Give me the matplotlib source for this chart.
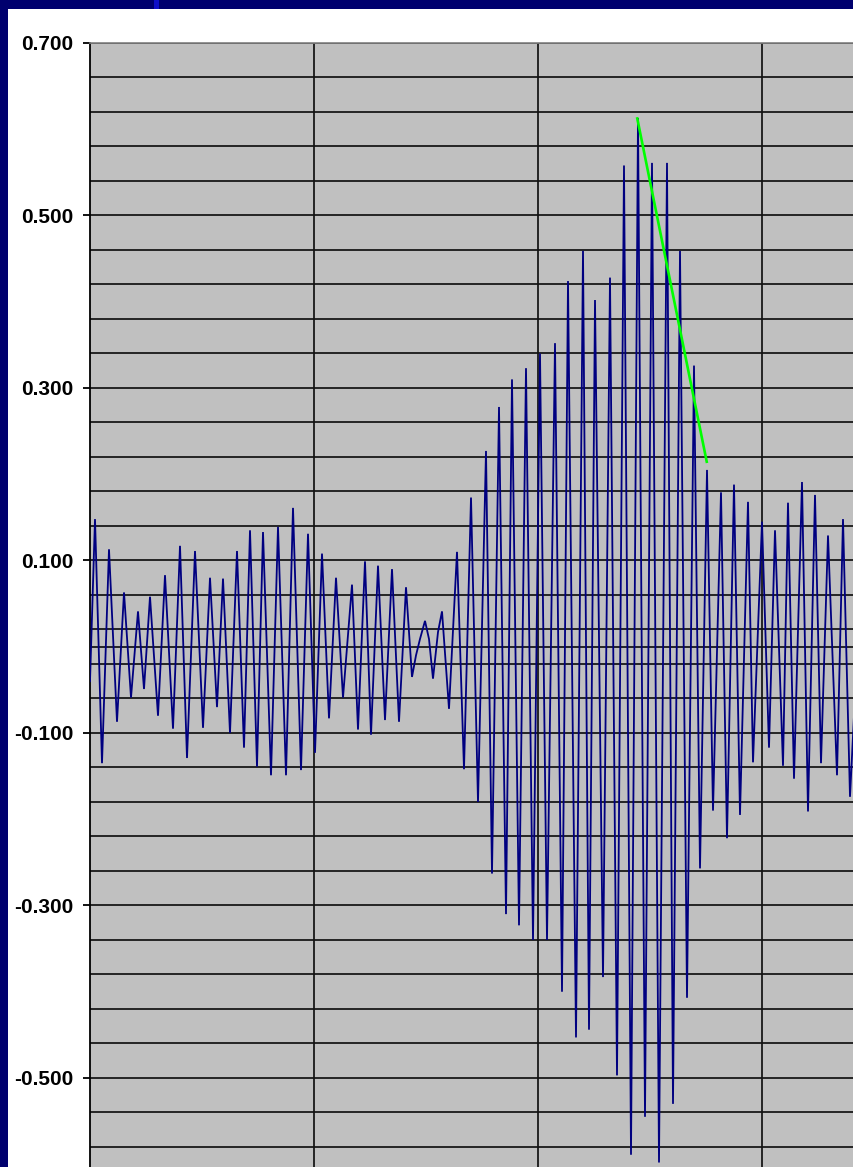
import matplotlib

matplotlib.use("Agg")
import matplotlib.pyplot as plt
import numpy as np
from matplotlib.patches import Rectangle
from matplotlib.ticker import FixedLocator, FuncFormatter

# Extremes of the recorded trace: sample position and amplitude
sample_pos = [
    0, 5, 12, 19, 27, 34, 41, 48, 54, 60, 68, 75, 83, 90, 97, 105,
    113, 120, 127, 133, 140, 147, 154, 160, 167, 173, 181, 188, 196, 203, 211, 218,
    225, 232, 239, 246, 253, 262, 268, 275, 281, 288, 295, 302, 309, 316,
    322, 326, 330, 335, 339, 343, 348, 352, 359,
    367, 374, 381, 388, 396, 402, 409, 416, 422, 429, 436, 443, 450, 457,
    465, 472, 478, 486, 493, 499, 505, 513, 520, 527, 534, 541, 548, 555,
    562, 569, 577, 583, 590, 597, 604, 610, 617, 623, 631, 637, 644, 650,
    658, 663, 672, 679, 685, 693, 698, 704, 712, 718, 725, 731, 738, 747,
    753, 760, 764,
]
amplitude = [
    -0.040, 0.148, -0.135, 0.113, -0.087, 0.063, -0.059, 0.041, -0.049, 0.058, -0.080, 0.083, -0.095, 0.117, -0.129, 0.111,
    -0.094, 0.080, -0.070, 0.079, -0.100, 0.111, -0.117, 0.135, -0.139, 0.133, -0.149, 0.139, -0.149, 0.161, -0.143, 0.131,
    -0.123, 0.108, -0.083, 0.080, -0.059, 0.072, -0.096, 0.099, -0.102, 0.094, -0.085, 0.090, -0.087, 0.069,
    -0.035, -0.010, 0.009, 0.030, 0.009, -0.037, 0.017, 0.041, -0.072,
    0.110, -0.142, 0.173, -0.180, 0.227, -0.263, 0.278, -0.310, 0.310, -0.323, 0.323, -0.340, 0.340, -0.340,
    0.352, -0.400, 0.424, -0.453, 0.459, -0.444, 0.402, -0.383, 0.428, -0.497, 0.558, -0.589, 0.613, -0.545,
    0.561, -0.598, 0.561, -0.530, 0.459, -0.407, 0.326, -0.257, 0.205, -0.190, 0.179, -0.222, 0.188, -0.195,
    0.168, -0.134, 0.145, -0.117, 0.135, -0.138, 0.167, -0.153, 0.191, -0.191, 0.176, -0.135, 0.129, -0.149,
    0.148, -0.174, -0.080,
]

# Decay line drawn from the largest peak down the falling envelope
decay_pos = [547, 617]
decay_amp = [0.614, 0.213]

y_labels = [0.7, 0.5, 0.3, 0.1, -0.1, -0.3, -0.5]
grid_step = 0.04
sample_grid = [224, 448, 672]

W, H = 854, 1167
plt.rcParams["axes.unicode_minus"] = False

fig = plt.figure(figsize=(W / 100, H / 100), dpi=100)
fig.patch.set_facecolor("#00006e")
fig.add_artist(Rectangle((8 / W, 0), 1, 1 - 9 / H, transform=fig.transFigure,
                         facecolor="white", edgecolor="none", zorder=0))
fig.add_artist(Rectangle((154 / W, 1 - 9 / H), 5 / W, 9 / H, transform=fig.transFigure,
                         facecolor="#1010c8", edgecolor="none", zorder=0))

ax = fig.add_axes([90 / W, 0, 764 / W, 1124 / H])
ax.set_facecolor("#c0c0c0")
ax.set_xlim(0, 764)
ax.set_ylim(-0.6032, 0.7)

# horizontal gridlines every 0.04 down from the top, plus the zero line
for level in 0.7 - grid_step * np.arange(33):
    ax.axhline(level, color="#111111", lw=1.25, zorder=1)
ax.axhline(0, color="#111111", lw=1.25, zorder=1)
for s in sample_grid:
    ax.axvline(s, color="#111111", lw=1.25, zorder=1)

ax.plot(sample_pos, amplitude, color="#000080", lw=1.3, zorder=3,
        solid_joinstyle="miter")
ax.plot(decay_pos, decay_amp, color="#00ff00", lw=1.9, zorder=4,
        solid_capstyle="butt")

for side in ("right", "bottom"):
    ax.spines[side].set_visible(False)
ax.spines["top"].set_color("#808080")
ax.spines["top"].set_linewidth(1.2)
ax.spines["left"].set_color("black")
ax.spines["left"].set_linewidth(1.3)

ax.set_xticks([])
ax.yaxis.set_major_locator(FixedLocator(y_labels))
ax.yaxis.set_major_formatter(FuncFormatter(lambda v, _: f"{v:.3f}"))
ax.tick_params(axis="y", direction="out", length=5, width=1.3, color="black", pad=7)
for lbl in ax.get_yticklabels():
    lbl.set_fontfamily(["Liberation Sans", "DejaVu Sans"])
    lbl.set_fontweight("bold")
    lbl.set_fontsize(15)
    lbl.set_color("black")

fig.savefig("out.png", dpi=100, facecolor=fig.get_facecolor())
